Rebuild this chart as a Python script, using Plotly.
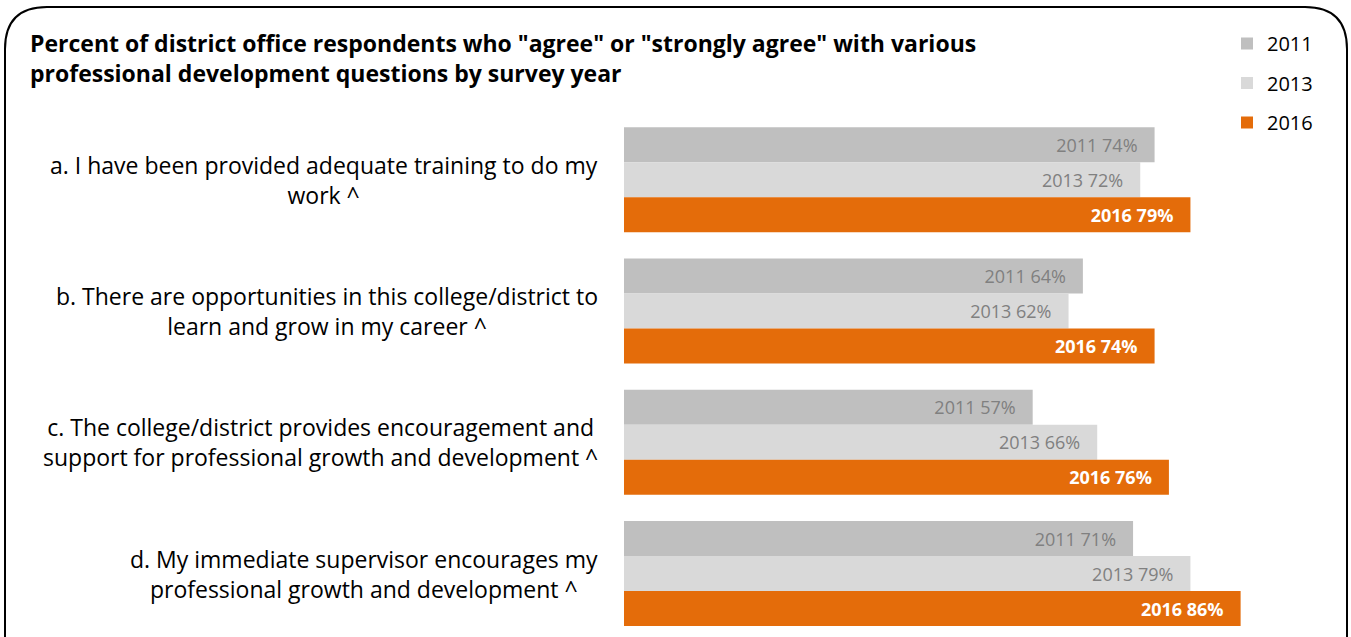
import plotly.graph_objects as go

categories = [
    "a. I have been provided adequate training to do my<br>work ^",
    "b. There are opportunities in this college/district to<br>learn and grow in my career ^",
    "c. The college/district provides encouragement and<br>support for professional growth and development ^",
    "d. My immediate supervisor encourages my<br>professional growth and development ^",
]
cat_keys = ["a", "b", "c", "d"]
years = ["2011", "2013", "2016"]
values_2011 = [74, 64, 57, 71]
values_2013 = [72, 62, 66, 79]
values_2016 = [79, 74, 76, 86]
series = [values_2011, values_2013, values_2016]
colors = ["#BFBFBF", "#D9D9D9", "#E46C0A"]
text_colors = ["#808080", "#808080", "#FFFFFF"]
text_bold = [False, False, True]

W, H = 1351, 637
ML, MR, MT, MB = 624, 10, 114, 0
PW, PH = W - ML - MR, H - MT - MB
FONT = "Open Sans"

fig = go.Figure()
for i, (yr, vals) in enumerate(zip(years, series)):
    if text_bold[i]:
        labels = [f"<b>{yr} {v}%</b>\u00a0\u00a0\u00a0" for v in vals]
    else:
        labels = [f"{yr} {v}%\u00a0\u00a0\u00a0" for v in vals]
    fig.add_trace(go.Bar(
        y=cat_keys, x=vals, orientation="h", name=yr,
        marker=dict(color=colors[i], line=dict(width=0)),
        text=labels,
        textposition="inside", insidetextanchor="end",
        textfont=dict(family=FONT, size=18, color=text_colors[i]),
        textangle=0,
        legendgroup=yr,
        hoverinfo="skip",
    ))

def px_x(p):
    return (p - ML) / PW

def px_y(p):
    return 1 - (p - MT) / PH

annotations = []
for k, lab in zip(cat_keys, categories):
    annotations.append(dict(
        x=px_x(600), xref="paper", y=k, yref="y", text=lab,
        xanchor="right", yanchor="middle", align="center", showarrow=False,
        font=dict(family=FONT, size=23, color="#000000"),
    ))

# rounded border
x0, x1 = px_x(5), px_x(1347)
y_top = px_y(7)
y_bot = px_y(700)
rx = 42 / PW
ry = 42 / PH
path = (f"M {x0} {y_bot} L {x0} {y_top - ry} Q {x0} {y_top} {x0 + rx} {y_top} "
        f"L {x1 - rx} {y_top} Q {x1} {y_top} {x1} {y_top - ry} L {x1} {y_bot}")

fig.update_layout(
    width=W, height=H,
    margin=dict(l=ML, r=MR, t=MT, b=MB),
    plot_bgcolor="white", paper_bgcolor="white",
    barmode="group", bargap=0.2, bargroupgap=0,
    title=dict(
        text="<b>Percent of district office respondents who \"agree\" or \"strongly agree\" with various<br>professional development questions by survey year</b>",
        x=30 / W, xanchor="left", xref="container",
        y=1 - 52 / H, yanchor="top", yref="container",
        font=dict(family=FONT, size=23, color="#000000"),
    ),
    xaxis=dict(range=[0, 100], visible=False, fixedrange=True),
    yaxis=dict(range=[3.483, -0.5], showticklabels=False, showgrid=False,
               zeroline=False, showline=False, fixedrange=True),
    legend=dict(
        x=px_x(1227), xanchor="left", y=px_y(24), yanchor="top",
        font=dict(family=FONT, size=20, color="#000000"),
        tracegroupgap=10.5, traceorder="grouped",
        itemwidth=30, bgcolor="rgba(0,0,0,0)",
    ),
    annotations=annotations,
    shapes=[dict(type="path", path=path, xref="paper", yref="paper",
                 line=dict(color="#000000", width=2), layer="above")],
    showlegend=True,
)

fig.write_html("out.html", post_script="document.body.style.margin='0';",
               config={"displayModeBar": False})
